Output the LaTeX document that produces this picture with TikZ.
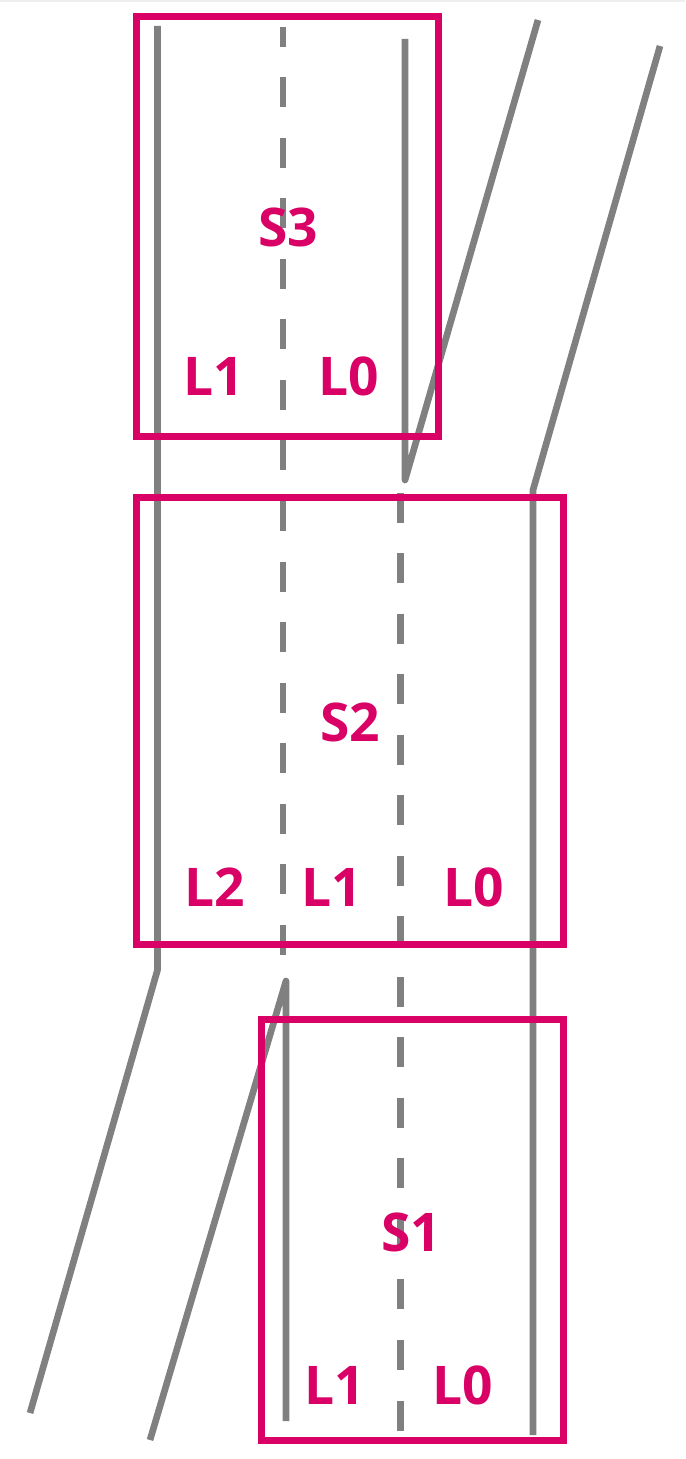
\documentclass[tikz,border=0pt]{standalone}
\usepackage{fontspec}
\setmainfont{Open Sans}
\usepackage{xcolor}
\usepackage{tikz}
\definecolor{LaneGray}{HTML}{808080}
\definecolor{SegPink}{HTML}{D90066}
\definecolor{TopLine}{HTML}{EEEEEE}

\begin{document}
\begin{tikzpicture}[x=0.75pt,y=-0.75pt,
  lane/.style={LaneGray,line width=5pt,line join=round},
  lanedash/.style={lane,dash pattern=on 22.5pt off 22.9pt},
  segbox/.style={SegPink,line width=5.25pt},
  seglabel/.style={SegPink,inner sep=0pt,font=\fontsize{40}{40}\selectfont\bfseries}]
\path[use as bounding box] (0,0) rectangle (685,1459);
\draw[TopLine,line width=1.5pt] (0,1) -- (685,1);
\draw[lane] (157.5,26) -- (157.5,970) -- (30,1413);
\draw[lanedash,dash phase=7.5pt] (283,26.7) -- (283,957);
\draw[lane] (150,1440) -- (286,981) -- (286,1421);
\draw[lane] (405,39) -- (405,480) -- (538,20);
\draw[lanedash] (400.5,492.5) -- (400.5,1432);
\draw[lane] (660,46) -- (533,490) -- (533,1435);
\draw[segbox] (136.5,16.5) rectangle (438.5,436.7);
\draw[segbox] (136.5,497) rectangle (563,944);
\draw[segbox] (261,1019.7) rectangle (563,1440);
\node[seglabel] (s3) at (288.3,227.5) {S3};
\node[seglabel] (s3l1) at (213.3,376) {L1};
\node[seglabel] (s3l0) at (349,376) {L0};
\node[seglabel] (s2) at (350,722) {S2};
\node[seglabel] (s2l2) at (215,887) {L2};
\node[seglabel] (s2l1) at (332,887) {L1};
\node[seglabel] (s2l0) at (474,887) {L0};
\node[seglabel] (s1) at (411,1232) {S1};
\node[seglabel] (s1l1) at (335,1385) {L1};
\node[seglabel] (s1l0) at (462.5,1385) {L0};
\end{tikzpicture}
\end{document}
